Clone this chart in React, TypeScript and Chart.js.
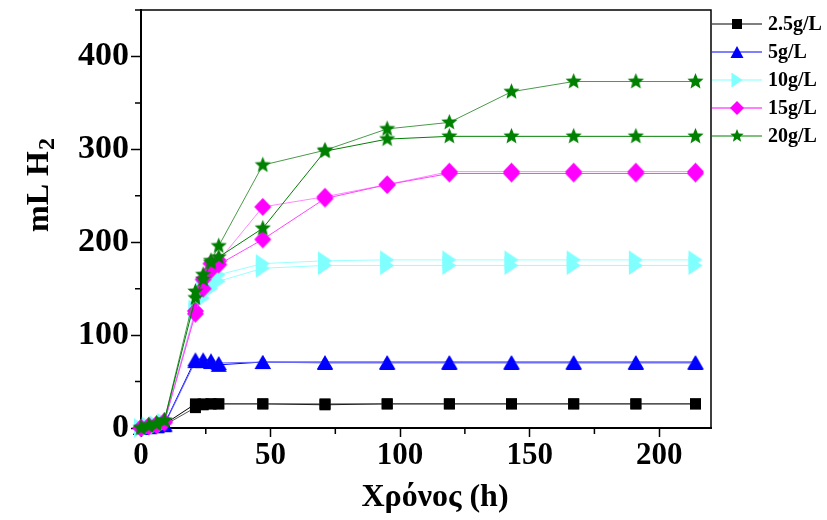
import React, { useEffect, useRef } from 'react';
import { Chart, registerables } from 'chart.js';

Chart.register(...registerables);

// ---- data ----
const TIME = [0, 3, 6, 9, 21, 24, 27, 30, 47, 71, 95, 119, 143, 167, 191, 214];
const X_MINOR = [25, 75, 125, 175];
const Y_MINOR = [50, 150, 250, 350, 450];
const LEGEND_LABELS = ['2.5g/L', '5g/L', '10g/L', '15g/L', '20g/L'];

const C25_A = [0, 1, 2, 4, 26, 26, 26, 26, 26, 25, 26, 26, 26, 26, 26, 26];
const C25_B = [0, 1, 2, 3, 22, 25, 26, 26, 26, 26, 26, 26, 26, 26, 26, 26];
const C5_A = [0, 1, 2, 4, 74, 74, 73, 68, 71, 71, 71, 71, 71, 71, 71, 71];
const C5_B = [0, 1, 2, 3, 72, 72, 71, 70, 71, 70, 70, 70, 70, 70, 70, 70];
const C10_A = [0, 2, 3, 6, 128, 150, 160, 165, 177, 180, 181, 181, 181, 181, 181, 181];
const C10_B = [0, 1, 3, 5, 125, 140, 150, 158, 172, 175, 175, 175, 175, 175, 175, 175];
const C15_A = [0, 2, 4, 7, 126, 160, 177, 180, 238, 249, 262, 276, 276, 276, 276, 276];
const C15_B = [0, 2, 3, 6, 123, 150, 170, 176, 203, 247, 262, 274, 274, 274, 274, 274];
const C20_A = [0, 3, 5, 8, 147, 165, 180, 196, 283, 299, 322, 329, 362, 373, 373, 373];
const C20_B = [0, 2, 4, 8, 140, 160, 178, 184, 215, 298, 311, 314, 314, 314, 314, 314];

const SERIF = "'Liberation Serif', 'Times New Roman', serif";

type Kind = 'square' | 'triUp' | 'triRight' | 'diamond' | 'star';

function shapePath(ctx: CanvasRenderingContext2D, kind: Kind, cx: number, cy: number, w: number, h: number) {
  ctx.beginPath();
  if (kind === 'square') {
    ctx.rect(cx - w / 2, cy - h / 2, w, h);
  } else if (kind === 'triUp') {
    ctx.moveTo(cx, cy - h / 2);
    ctx.lineTo(cx + w / 2, cy + h / 2);
    ctx.lineTo(cx - w / 2, cy + h / 2);
    ctx.closePath();
  } else if (kind === 'triRight') {
    ctx.moveTo(cx - w / 2, cy - h / 2);
    ctx.lineTo(cx + w / 2, cy);
    ctx.lineTo(cx - w / 2, cy + h / 2);
    ctx.closePath();
  } else if (kind === 'diamond') {
    ctx.moveTo(cx, cy - h / 2);
    ctx.lineTo(cx + w / 2, cy);
    ctx.lineTo(cx, cy + h / 2);
    ctx.lineTo(cx - w / 2, cy);
    ctx.closePath();
  } else {
    const R = w / 2;
    const r = R * 0.44;
    for (let i = 0; i < 10; i++) {
      const a = -Math.PI / 2 + (i * Math.PI) / 5;
      const rr = i % 2 === 0 ? R : r;
      const px = cx + rr * Math.cos(a);
      const py = cy + rr * Math.sin(a);
      if (i === 0) ctx.moveTo(px, py);
      else ctx.lineTo(px, py);
    }
    ctx.closePath();
  }
}

function makeMarker(kind: Kind, color: string, w: number, h: number): HTMLCanvasElement {
  const c = document.createElement('canvas');
  c.width = w + 2;
  c.height = h + 2;
  const ctx = c.getContext('2d')!;
  ctx.fillStyle = color;
  shapePath(ctx, kind, c.width / 2, c.height / 2, w, h);
  ctx.fill();
  return c;
}

interface SeriesDef {
  data: number[];
  color: string;
  line: string;
  kind: Kind;
  w: number;
  h: number;
}

const BLACK = '#000000';
const BLUE = '#0000ff';
const CYAN = '#80ffff';
const MAGENTA = '#ff00ff';
const GREEN = '#008000';

const SERIES: SeriesDef[] = [
  { data: C25_A, color: BLACK, line: '#000000', kind: 'square', w: 11, h: 11 },
  { data: C25_B, color: BLACK, line: '#555555', kind: 'square', w: 11, h: 11 },
  { data: C5_A, color: BLUE, line: BLUE, kind: 'triUp', w: 16, h: 14 },
  { data: C5_B, color: BLUE, line: '#6666ff', kind: 'triUp', w: 16, h: 14 },
  { data: C10_A, color: CYAN, line: '#99ffff', kind: 'triRight', w: 14, h: 19 },
  { data: C10_B, color: CYAN, line: '#99ffff', kind: 'triRight', w: 14, h: 19 },
  { data: C15_A, color: MAGENTA, line: '#ff88ff', kind: 'diamond', w: 17, h: 18 },
  { data: C15_B, color: MAGENTA, line: '#ff44ff', kind: 'diamond', w: 17, h: 18 },
  { data: C20_A, color: GREEN, line: '#4a9a4a', kind: 'star', w: 17, h: 17 },
  { data: C20_B, color: GREEN, line: GREEN, kind: 'star', w: 17, h: 17 },
];

const LEGEND_DEFS: { color: string; kind: Kind; w: number; h: number }[] = [
  { color: BLACK, kind: 'square', w: 10, h: 10 },
  { color: BLUE, kind: 'triUp', w: 13, h: 12 },
  { color: CYAN, kind: 'triRight', w: 11, h: 15 },
  { color: MAGENTA, kind: 'diamond', w: 14, h: 14 },
  { color: GREEN, kind: 'star', w: 14, h: 14 },
];

const decorPlugin = {
  id: 'decor',
  afterDraw(chart: any) {
    const ctx: CanvasRenderingContext2D = chart.ctx;
    const { left, right, top, bottom } = chart.chartArea;
    const xs = chart.scales.x;
    const ys = chart.scales.y;
    ctx.save();
    // frame top & right
    ctx.strokeStyle = '#000';
    ctx.lineWidth = 1.5;
    ctx.beginPath();
    ctx.moveTo(left, top);
    ctx.lineTo(right, top);
    ctx.lineTo(right, bottom);
    ctx.stroke();
    // minor ticks
    ctx.lineWidth = 1.5;
    ctx.beginPath();
    X_MINOR.forEach((v) => {
      const px = xs.getPixelForValue(v);
      ctx.moveTo(px, bottom);
      ctx.lineTo(px, bottom + 6);
    });
    Y_MINOR.forEach((v) => {
      const py = ys.getPixelForValue(v);
      ctx.moveTo(left - 6, py);
      ctx.lineTo(left, py);
    });
    ctx.stroke();

    // legend
    const lx0 = right + 1;
    const lx1 = right + 51;
    const mx = right + 26;
    LEGEND_LABELS.forEach((label, i) => {
      const d = LEGEND_DEFS[i];
      const y = 24 + i * 28;
      ctx.strokeStyle = d.color;
      ctx.lineWidth = 1.2;
      ctx.beginPath();
      ctx.moveTo(lx0, y);
      ctx.lineTo(lx1, y);
      ctx.stroke();
      ctx.fillStyle = d.color;
      shapePath(ctx, d.kind, mx, y, d.w, d.h);
      ctx.fill();
      ctx.fillStyle = '#000';
      ctx.font = `bold 20px ${SERIF}`;
      ctx.textAlign = 'left';
      ctx.textBaseline = 'middle';
      ctx.fillText(label, right + 57, y + 1);
    });

    // x title
    ctx.fillStyle = '#000';
    ctx.font = `bold 32px ${SERIF}`;
    ctx.textAlign = 'center';
    ctx.textBaseline = 'alphabetic';
    ctx.fillText('Χρόνος (h)', 435, 506);

    // y title
    ctx.save();
    ctx.translate(48, 232);
    ctx.rotate(-Math.PI / 2);
    ctx.font = `bold 32px ${SERIF}`;
    ctx.textAlign = 'left';
    const t = 'mL H';
    ctx.fillText(t, 0, 0);
    const w = ctx.measureText(t).width;
    ctx.font = `bold 24px ${SERIF}`;
    ctx.fillText('2', w + 1, 6);
    ctx.restore();

    ctx.restore();
  },
};

export default function App() {
  const ref = useRef<HTMLCanvasElement | null>(null);

  useEffect(() => {
    if (!ref.current) return;
    const datasets = SERIES.map((s, i) => ({
      label: `s${i}`,
      data: TIME.map((t, k) => ({ x: t, y: s.data[k] })),
      borderColor: s.line,
      borderWidth: 1,
      backgroundColor: s.color,
      pointStyle: makeMarker(s.kind, s.color, s.w, s.h) as any,
      pointRadius: 7,
      pointHoverRadius: 7,
      tension: 0,
      clip: false as any,
      order: SERIES.length - i,
    }));

    const chart = new Chart(ref.current, {
      type: 'line',
      data: { datasets },
      options: {
        responsive: false,
        animation: false,
        devicePixelRatio: 1,
        layout: { padding: { left: 0, right: 116, top: 10, bottom: 0 } },
        plugins: {
          legend: { display: false },
          tooltip: { enabled: false },
          title: { display: false },
        },
        scales: {
          x: {
            type: 'linear',
            min: 0,
            max: 220,
            ticks: {
              stepSize: 50,
              includeBounds: false,
              color: '#000',
              font: { family: SERIF, size: 31, weight: 'bold' },
              padding: 0,
              maxRotation: 0,
            },
            grid: {
              drawOnChartArea: false,
              drawTicks: true,
              tickLength: 9,
              tickColor: '#000',
              tickWidth: 1.5,
            },
            border: { display: true, color: '#000', width: 2 },
            afterFit: (s: any) => {
              s.height = 92;
              s.paddingLeft = 0;
              s.paddingRight = 0;
            },
          },
          y: {
            type: 'linear',
            min: 0,
            max: 450,
            ticks: {
              stepSize: 100,
              includeBounds: false,
              color: '#000',
              font: { family: SERIF, size: 34, weight: 'bold' },
              padding: 2,
            },
            grid: {
              drawOnChartArea: false,
              drawTicks: true,
              tickLength: 10,
              tickColor: '#000',
              tickWidth: 1.5,
            },
            border: { display: true, color: '#000', width: 2 },
            afterFit: (s: any) => {
              s.width = 141;
              s.paddingTop = 0;
              s.paddingBottom = 0;
            },
          },
        },
      } as any,
      plugins: [decorPlugin],
    });
    return () => chart.destroy();
  }, []);

  return (
    <div style={{ position: 'fixed', left: 0, top: 0, width: 827, height: 520, background: '#fff' }}>
      <canvas ref={ref} width={827} height={520} style={{ width: 827, height: 520, display: 'block' }} />
    </div>
  );
}
